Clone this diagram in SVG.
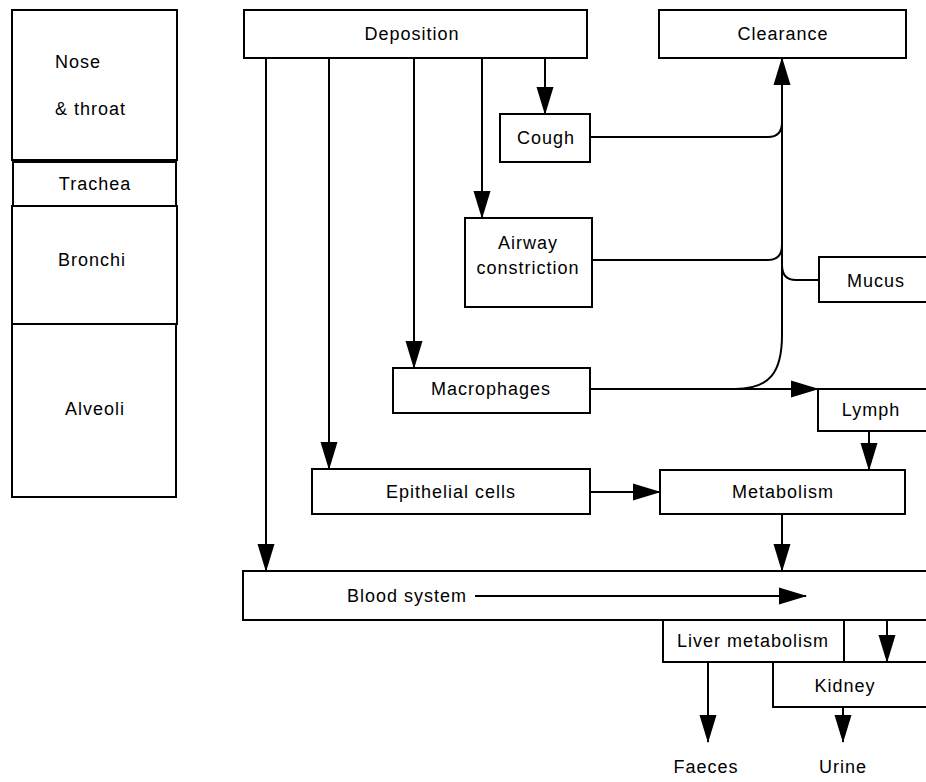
<svg xmlns="http://www.w3.org/2000/svg" width="926" height="782" viewBox="0 0 926 782">
<style>
.box{fill:#fff;stroke:#000;stroke-width:2}
.ln{fill:none;stroke:#000;stroke-width:2}
text{font-family:"Liberation Sans",Arial,sans-serif;font-size:18px;letter-spacing:1px;fill:#000}
.c{text-anchor:middle}
</style>
<defs>
<marker id="ah" markerUnits="userSpaceOnUse" markerWidth="28" markerHeight="18" refX="27" refY="9" orient="auto">
<path d="M0,0.5 L28,9 L0,17.5 z" fill="#000"/>
</marker>
</defs>
<rect width="926" height="782" fill="#fff"/>

<g id="nose-throat"><rect class="box" x="12" y="10" width="165" height="150"/><text x="55" y="68">Nose</text><text x="55" y="115">&amp; throat</text></g>
<g id="trachea"><rect class="box" x="13" y="162" width="163" height="44"/><text class="c" x="95" y="190">Trachea</text></g>
<g id="bronchi"><rect class="box" x="12" y="206" width="165" height="118"/><text class="c" x="92" y="266">Bronchi</text></g>
<g id="alveoli"><rect class="box" x="12" y="324" width="164" height="173"/><text class="c" x="95" y="415">Alveoli</text></g>

<g id="deposition"><rect class="box" x="244" y="10" width="343" height="48"/><text class="c" x="412" y="40">Deposition</text></g>
<g id="clearance"><rect class="box" x="659" y="10" width="247" height="48"/><text class="c" x="783" y="40">Clearance</text></g>
<g id="cough"><rect class="box" x="500" y="114" width="90" height="48"/><text class="c" x="546" y="144">Cough</text></g>
<g id="airway"><rect class="box" x="465" y="218" width="127" height="89"/><text class="c" x="528" y="249">Airway</text><text class="c" x="528" y="274">constriction</text></g>
<g id="mucus"><rect class="box" x="819" y="257" width="120" height="45"/><text class="c" x="876" y="287">Mucus</text></g>
<g id="macrophages"><rect class="box" x="393" y="368" width="197" height="45"/><text class="c" x="491" y="395">Macrophages</text></g>
<g id="lymph"><rect class="box" x="818" y="389" width="120" height="42"/><text class="c" x="871" y="416">Lymph</text></g>
<g id="epithelial"><rect class="box" x="312" y="469" width="278" height="45"/><text class="c" x="451" y="498">Epithelial cells</text></g>
<g id="metabolism"><rect class="box" x="660" y="470" width="245" height="44"/><text class="c" x="783" y="498">Metabolism</text></g>
<g id="blood"><rect class="box" x="243" y="571" width="700" height="49"/><text x="347" y="602">Blood system</text></g>
<g id="liver"><rect class="box" x="663" y="620" width="181" height="42"/><text class="c" x="753" y="647">Liver metabolism</text></g>
<g id="kidney"><rect class="box" x="773" y="662" width="170" height="45"/><text class="c" x="845" y="692">Kidney</text></g>
<g id="faeces"><text class="c" x="706" y="773">Faeces</text></g>
<g id="urine"><text class="c" x="843" y="773">Urine</text></g>

<g id="connectors">
<line class="ln" x1="266" y1="58" x2="266" y2="571" marker-end="url(#ah)"/>
<line class="ln" x1="329" y1="58" x2="329" y2="469" marker-end="url(#ah)"/>
<line class="ln" x1="414" y1="58" x2="414" y2="368" marker-end="url(#ah)"/>
<line class="ln" x1="482" y1="58" x2="482" y2="218" marker-end="url(#ah)"/>
<line class="ln" x1="545" y1="58" x2="545" y2="114" marker-end="url(#ah)"/>
<path class="ln" d="M 735 389 C 770 389 782 372 782 335 L 782 58" marker-end="url(#ah)"/>
<path class="ln" d="M 590 137 L 768 137 C 778 137 782 132 782 122"/>
<path class="ln" d="M 592 260 L 768 260 C 778 260 782 255 782 245"/>
<path class="ln" d="M 819 280 L 796 280 C 786 280 782 275 782 265"/>
<line class="ln" x1="590" y1="389" x2="818" y2="389" marker-end="url(#ah)"/>
<line class="ln" x1="869" y1="431" x2="869" y2="470" marker-end="url(#ah)"/>
<line class="ln" x1="590" y1="492" x2="660" y2="492" marker-end="url(#ah)"/>
<line class="ln" x1="782" y1="514" x2="782" y2="571" marker-end="url(#ah)"/>
<line class="ln" x1="475" y1="596" x2="806" y2="596" marker-end="url(#ah)"/>
<line class="ln" x1="887" y1="620" x2="887" y2="662" marker-end="url(#ah)"/>
<line class="ln" x1="708" y1="662" x2="708" y2="742" marker-end="url(#ah)"/>
<line class="ln" x1="843" y1="707" x2="843" y2="742" marker-end="url(#ah)"/>
</g>
</svg>
